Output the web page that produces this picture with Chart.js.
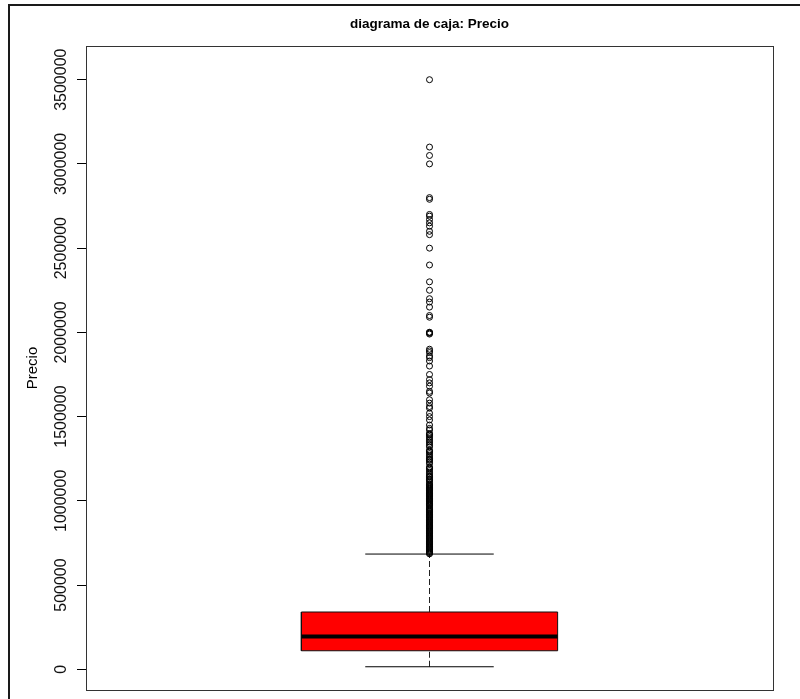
<!DOCTYPE html>
<html>
<head>
<meta charset="utf-8">
<script src="https://cdn.jsdelivr.net/npm/chart.js@4.4.1/dist/chart.umd.min.js"></script>
<style>
  html, body { margin: 0; padding: 0; background: #fff; }
  #wrap { position: relative; width: 800px; height: 699px; overflow: hidden; }
  #wrap canvas { position: absolute; left: 0; top: 0; }
  #frame { position: absolute; left: 8px; top: 4px; right: -10px; bottom: -10px;
           border-left: 2px solid #1a1a1a; border-top: 2px solid #1a1a1a; pointer-events: none; }
</style>
</head>
<body>
<div id="wrap">
  <canvas id="c" width="800" height="699"></canvas>
  <div id="frame"></div>
</div>
<script>
// Precio: box statistics
const variable = ['Precio'];
const whiskers = [15000, 684000];          // lower, upper
const quartiles = [110000, 195000, 340000]; // Q1, median, Q3
const outliers = [
  3500000, 3100000, 3050000, 3000000, 2800000, 2790000, 2700000, 2690000,
  2670000, 2650000, 2630000, 2600000, 2580000, 2500000, 2400000, 2300000,
  2250000, 2200000, 2180000, 2150000, 2100000, 2090000, 2000000, 2000000,
  1995000, 1990000, 1900000, 1890000, 1880000, 1860000, 1850000, 1830000,
  1800000, 1750000, 1720000, 1700000, 1680000, 1650000, 1640000, 1600000,
  1580000, 1560000, 1550000, 1520000, 1500000, 1480000, 1450000, 1430000,
  1420000, 1400000, 1395000, 1390000, 1380000, 1370000, 1360000, 1350000,
  1340000, 1330000, 1320000, 1300000, 1295000, 1290000, 1280000, 1270000,
  1260000, 1250000, 1245000, 1240000, 1230000, 1220000, 1200000, 1195000,
  1190000, 1180000, 1170000, 1160000, 1150000, 1145000, 1140000, 1130000,
  1125000, 1120000, 1110000, 1100000, 1095000, 1090000, 1085000, 1080000,
  1075000, 1070000, 1065000, 1060000, 1055000, 1050000, 1045000, 1040000,
  1035000, 1030000, 1025000, 1020000, 1015000, 1010000, 1005000, 1000000,
  995000, 990000, 985000, 980000, 975000, 970000, 960000, 955000,
  950000, 945000, 940000, 935000, 930000, 925000, 920000, 915000,
  910000, 905000, 900000, 895000, 890000, 885000, 880000, 875000,
  870000, 865000, 860000, 855000, 850000, 845000, 840000, 835000,
  830000, 825000, 820000, 815000, 810000, 805000, 800000, 795000,
  790000, 785000, 780000, 775000, 770000, 765000, 760000, 755000,
  750000, 745000, 740000, 735000, 730000, 725000, 720000, 715000,
  710000, 705000, 700000, 695000, 690000, 685000
];
const yTicks = [0, 500000, 1000000, 1500000, 2000000, 2500000, 3000000, 3500000];

// horizontal geometry of the box (x axis runs 0.5 .. 1.5)
const XC = 1;
const BOX_HALF = 0.1865;
const CAP_HALF = 0.0935;

const [q1, med, q3] = quartiles;
const [wLo, wHi] = whiskers;

const seg = (x0, x1, y0, y1) => [{ x: x0, y: y0 }, { x: x1, y: y1 }];
const lineDs = (data, extra) => Object.assign({
  type: 'line', data, borderColor: '#000', borderWidth: 1,
  pointRadius: 0, tension: 0, fill: false
}, extra);

const plotFrame = {
  id: 'plotFrame',
  afterDraw(chart) {
    const { ctx, chartArea: a } = chart;
    ctx.save();
    ctx.strokeStyle = '#333';
    ctx.lineWidth = 1;
    ctx.strokeRect(Math.round(a.left) + 0.5, Math.round(a.top) + 0.5,
                   Math.round(a.right - a.left), Math.round(a.bottom - a.top));
    ctx.restore();
  }
};

const sans = "'Liberation Sans', Arial, sans-serif";

new Chart(document.getElementById('c'), {
  type: 'line',
  data: {
    datasets: [
      // median
      lineDs(seg(XC - BOX_HALF, XC + BOX_HALF, med, med), { borderWidth: 4 }),
      // outliers
      {
        type: 'scatter', label: variable[0],
        data: outliers.map(v => ({ x: XC, y: v })),
        pointStyle: 'circle', pointRadius: 3, pointBorderWidth: 1,
        pointBorderColor: '#000', pointBackgroundColor: 'rgba(255,255,255,0)'
      },
      // caps
      lineDs(seg(XC - CAP_HALF, XC + CAP_HALF, wHi, wHi)),
      lineDs(seg(XC - CAP_HALF, XC + CAP_HALF, wLo, wLo)),
      // dashed whiskers
      lineDs(seg(XC, XC, q3, wHi), { borderDash: [6, 3], borderColor: '#222' }),
      lineDs(seg(XC, XC, wLo, q1), { borderDash: [6, 3], borderColor: '#222' }),
      // box
      lineDs([
        { x: XC - BOX_HALF, y: q1 }, { x: XC + BOX_HALF, y: q1 },
        { x: XC + BOX_HALF, y: q3 }, { x: XC - BOX_HALF, y: q3 },
        { x: XC - BOX_HALF, y: q1 }
      ], { fill: 'shape', backgroundColor: '#ff0000', borderColor: '#111' })
    ]
  },
  options: {
    responsive: false,
    animation: false,
    events: [],
    layout: { padding: { left: 0, right: 27, top: 0, bottom: 9 } },
    plugins: {
      legend: { display: false },
      tooltip: { enabled: false },
      title: { display: false }
    },
    scales: {
      // top axis carries the main title, centred over the plot region
      x: {
        type: 'linear', min: 0.5, max: 1.5, position: 'top',
        ticks: { display: false },
        grid: { display: false, drawTicks: false },
        border: { display: false },
        title: {
          display: true,
          text: 'diagrama de caja: Precio',
          color: '#000',
          font: { family: sans, size: 13.5, weight: 'bold' },
          padding: { top: 16, bottom: 13.8 }
        }
      },
      y: {
        type: 'linear', min: -123000, max: 3700000,
        afterBuildTicks: s => { s.ticks = yTicks.map(v => ({ value: v })); },
        afterFit: s => { s.width = 86; },
        ticks: {
          minRotation: 90, maxRotation: 90, crossAlign: 'center', padding: -16,
          color: '#111',
          font: { family: sans, size: 16 },
          callback: v => String(v)
        },
        grid: { drawOnChartArea: false, drawTicks: true, tickLength: 9, color: '#000', lineWidth: 1 },
        border: { display: true, color: '#333' },
        title: {
          display: true, text: 'Precio', color: '#000',
          font: { family: sans, size: 15 },
          padding: { top: 24, bottom: 0 }
        }
      }
    }
  },
  plugins: [plotFrame]
});
</script>
</body>
</html>
